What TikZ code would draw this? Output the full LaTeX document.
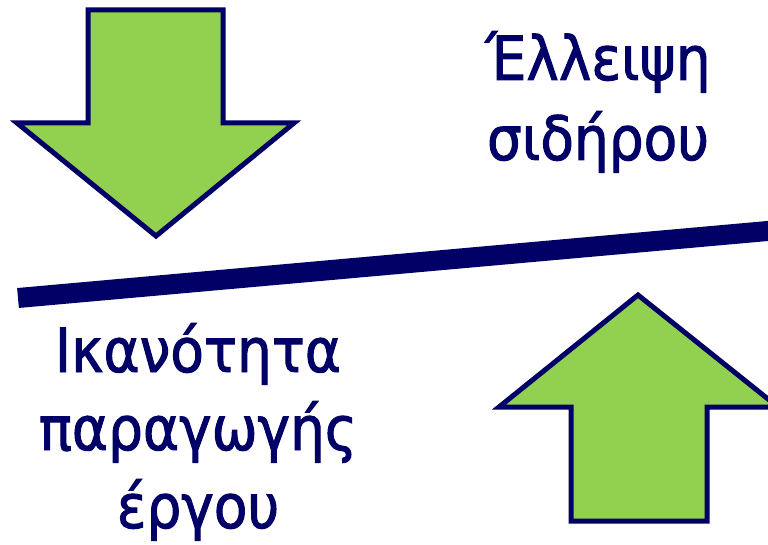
\documentclass[tikz,border=0pt]{standalone}
\usepackage{fontspec}
\setmainfont{DejaVu Sans}[FakeStretch=0.9, FakeBold=1.6]
\definecolor{navy}{RGB}{0,0,102}
\definecolor{leaf}{RGB}{146,208,80}
\tikzset{
  bigarrow/.style={draw=navy, fill=leaf, line width=5pt, line join=miter},
  label/.style={text=navy, font=\fontsize{61}{61}\selectfont, anchor=base, inner sep=0pt},
  bar/.style={draw=navy, line width=20pt}
}
\begin{document}
\begin{tikzpicture}[x=1pt,y=-1pt]
\useasboundingbox (0,0) rectangle (768,545);
\clip (0,0) rectangle (768,545);
% down arrow
\draw[bigarrow] (88,10) -- (223,10) -- (223,123) -- (294,123) -- (156,236) -- (17,123) -- (88,123) -- cycle;
% up arrow
\draw[bigarrow] (638,295) -- (778,407) -- (707,407) -- (707,521) -- (571,521) -- (571,407) -- (499,407) -- cycle;
% balance bar
\coordinate (barL) at (18,298);
\coordinate (barR) at (790,229);
\draw[bar] (barL) -- (barR);
% texts
\node[label] (t1) at (598,80) {Έλλειψη};
\node[label] (t2) at (598,160) {σιδήρου};
\node[label] (t3) at (198,372) {Ικανότητα};
\node[label] (t4) at (198,450) {παραγωγής};
\node[label] (t5) at (198,528) {έργου};
\end{tikzpicture}
\end{document}
